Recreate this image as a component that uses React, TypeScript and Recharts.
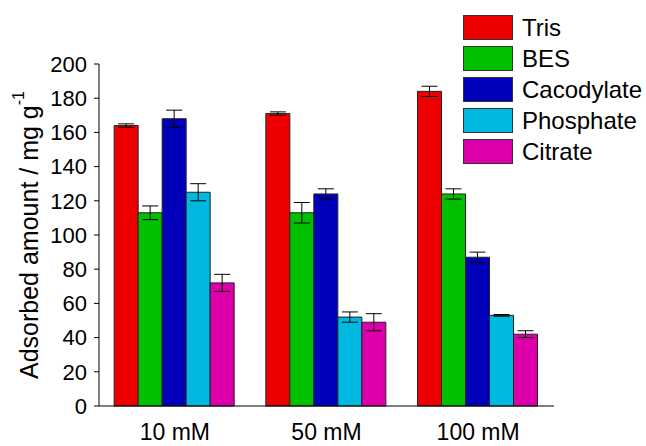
import React from "react";
import { BarChart, Bar, XAxis, YAxis, ErrorBar } from "recharts";

const categories = ["10 mM", "50 mM", "100 mM"];
const seriesNames = ["Tris", "BES", "Cacodylate", "Phosphate", "Citrate"];
const trisValues = [164, 171, 184];
const besValues = [113, 113, 124];
const cacodylateValues = [168, 124, 87];
const phosphateValues = [125, 52, 53];
const citrateValues = [72, 49, 42];
const trisErr = [1, 1, 3];
const besErr = [4, 6, 3];
const cacodylateErr = [5, 3, 3];
const phosphateErr = [5, 3, 0.5];
const citrateErr = [5, 5, 2];
const yTicks = [0, 20, 40, 60, 80, 100, 120, 140, 160, 180, 200];
const colors = ["#EE0000", "#00C000", "#0000BB", "#00B8E0", "#DD00AA"];

const values = [trisValues, besValues, cacodylateValues, phosphateValues, citrateValues];
const errors = [trisErr, besErr, cacodylateErr, phosphateErr, citrateErr];

const data = categories.map((c, i) => {
  const row: Record<string, any> = { name: c };
  seriesNames.forEach((s, k) => {
    row[s] = values[k][i];
    row[s + "_err"] = errors[k][i];
  });
  return row;
});

const FONT = "'Liberation Sans', Arial, sans-serif";

const LegendBox = () => (
  <div style={{ position: "absolute", left: 463, top: 12, fontFamily: FONT }}>
    {seriesNames.map((s, k) => (
      <div key={s} style={{ display: "flex", alignItems: "center", height: 31 }}>
        <div
          style={{
            width: 50,
            height: 25,
            background: colors[k],
            border: "1px solid #333",
            boxSizing: "border-box",
          }}
        />
        <span style={{ marginLeft: 9, fontSize: 24, color: "#000", lineHeight: "31px" }}>{s}</span>
      </div>
    ))}
  </div>
);

const YLabel = () => {
  const cx = 31;
  const cy = 235;
  return (
    <text
      x={cx}
      y={cy}
      transform={`rotate(-90 ${cx} ${cy})`}
      textAnchor="middle"
      dominantBaseline="middle"
      fontFamily={FONT}
      fontSize={25}
      fill="#000"
    >
      Adsorbed amount / mg g
      <tspan dy={-11} fontSize={16}>-1</tspan>
    </text>
  );
};

export default function App() {
  return (
    <div style={{ position: "absolute", left: 0, top: 0, width: 646, height: 446, background: "#fff" }}>
      <BarChart
        width={646}
        height={446}
        data={data}
        margin={{ top: 64, right: 92, bottom: 0, left: 0 }}
        barCategoryGap="10%"
        barGap={0}
      >
        <XAxis
          dataKey="name"
          tickLine={false}
          axisLine={{ stroke: "#000", strokeWidth: 1 }}
          height={40}
          tick={{ fontFamily: FONT, fontSize: 23, fill: "#000" }}
          tickMargin={12}
        />
        <YAxis
          domain={[0, 200]}
          ticks={yTicks}
          width={99}
          interval={0}
          axisLine={{ stroke: "#000", strokeWidth: 1 }}
          tickLine={{ stroke: "#000", strokeWidth: 1 }}
          tickSize={5}
          tickMargin={7}
          tick={{ fontFamily: FONT, fontSize: 22, fill: "#000" }}
          label={<YLabel />}
        />
        {seriesNames.map((s, k) => (
          <Bar
            key={s}
            dataKey={s}
            fill={colors[k]}
            stroke="#222"
            strokeWidth={1}
            isAnimationActive={false}
          >
            <ErrorBar dataKey={s + "_err"} width={8} stroke="#000" strokeWidth={1} />
          </Bar>
        ))}
      </BarChart>
      <LegendBox />
    </div>
  );
}
